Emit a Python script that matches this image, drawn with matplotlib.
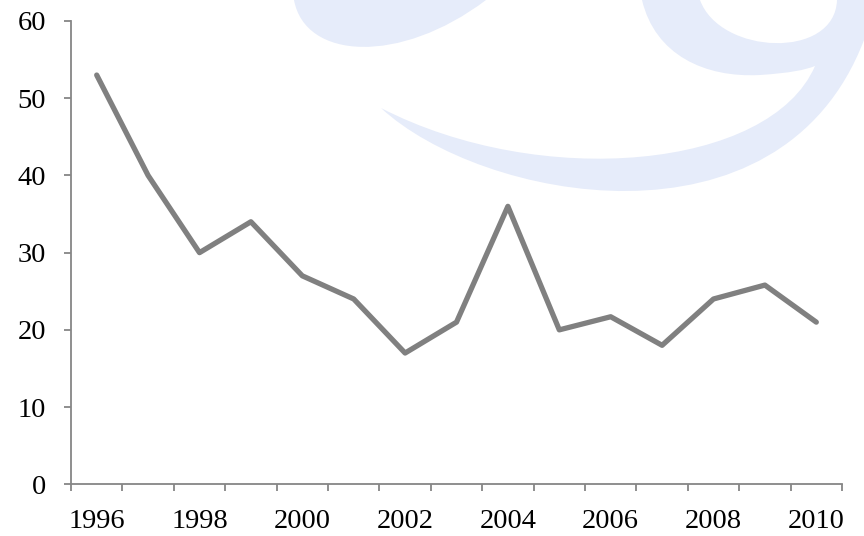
import matplotlib.pyplot as plt
from matplotlib.path import Path
from matplotlib.patches import PathPatch

# data
years = list(range(1996, 2011))
values = [53, 40, 30, 34, 27, 24, 17, 21, 36, 20, 21.7, 18, 24, 25.8, 21]
tick_years = [str(y) for y in years[::2]]

W, H = 864, 536
fig = plt.figure(figsize=(W / 100, H / 100), dpi=100)
plt.rcParams['font.family'] = ['Liberation Serif', 'DejaVu Serif']

ax = fig.add_axes([71 / W, 1 - 484.3 / H, (842 - 71) / W, (484.3 - 21) / H])
ax.set_zorder(2)
ax.patch.set_visible(False)


# faint watermark in the background (pixel coords, y down)
def px(p):
    return (p[0] / W, 1 - p[1] / H)


C4 = Path.CURVE4
wm_color = '#E6ECFA'

bowl = [(294, 0), (305, 60), (400, 65), (486, 0), (294, 0)]
bowl_codes = [Path.MOVETO, C4, C4, C4, Path.CLOSEPOLY]

gshape = [(642, 0),
          (655, 55), (705, 78), (760, 75),
          (790, 73), (805, 70), (815, 66),
          (770, 170), (540, 190), (381, 108),
          (480, 200), (780, 260), (864, 40),
          (864, 0), (837, 0),
          (835, 60), (720, 55), (700, 0),
          (642, 0)]
gcodes = [Path.MOVETO, C4, C4, C4, C4, C4, C4, C4, C4, C4, C4, C4, C4,
          Path.LINETO, Path.LINETO, C4, C4, C4, Path.CLOSEPOLY]

for verts, codes in [(bowl, bowl_codes), (gshape, gcodes)]:
    patch = PathPatch(Path([px(v) for v in verts], codes),
                      facecolor=wm_color, edgecolor='none',
                      transform=fig.transFigure, zorder=0)
    fig.patches.append(patch)

# the line
x = list(range(len(years)))
ax.plot(x, values, color='#808080', linewidth=3.8,
        solid_joinstyle='round', solid_capstyle='round', clip_on=False)

ax.set_xlim(-0.5, len(years) - 0.5)
ax.set_ylim(0, 60)
ax.set_yticks(range(0, 61, 10))

ax.set_xticks(x[::2])
ax.set_xticklabels(tick_years)
ax.set_xticks([i - 0.5 for i in range(len(years) + 1)], minor=True)

axis_gray = '#868686'
for s in ['top', 'right']:
    ax.spines[s].set_visible(False)
for s in ['left', 'bottom']:
    ax.spines[s].set_color(axis_gray)
    ax.spines[s].set_linewidth(1.3)

ax.tick_params(axis='y', length=5, width=1.3, color=axis_gray,
               labelsize=20.5, pad=13)
ax.tick_params(axis='x', which='major', length=0, labelsize=20.5, pad=18)
ax.tick_params(axis='x', which='minor', length=5, width=1.3,
               color=axis_gray)

fig.savefig('out.png', dpi=100)
